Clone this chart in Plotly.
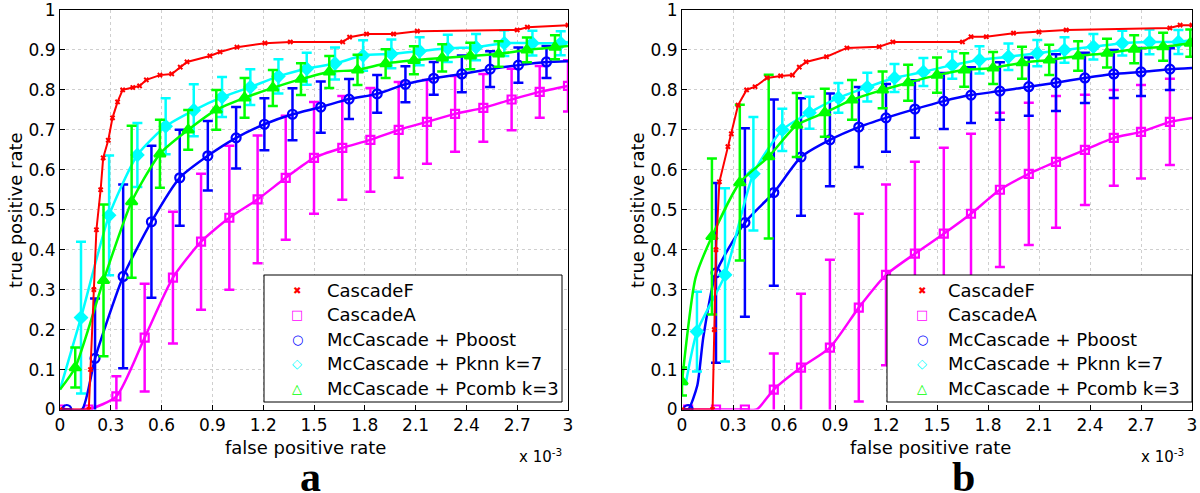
import plotly.graph_objects as go

# ---------------- data (false positive rate in units of 1e-3) ----------------
X_TICKS = [0, 0.3, 0.6, 0.9, 1.2, 1.5, 1.8, 2.1, 2.4, 2.7, 3]
X_TICK_TEXT = ["0", "0.3", "0.6", "0.9", "1.2", "1.5", "1.8", "2.1", "2.4", "2.7", "3"]
Y_TICKS = [0, 0.1, 0.2, 0.3, 0.4, 0.5, 0.6, 0.7, 0.8, 0.9, 1]
Y_TICK_TEXT = ["0", "0.1", "0.2", "0.3", "0.4", "0.5", "0.6", "0.7", "0.8", "0.9", "1"]
NAMES = ["CascadeF", "CascadeA", "McCascade + Pboost", "McCascade + Pknn k=7", "McCascade + Pcomb k=3"]

# Panel a
A_RED_X = [0, 0.17, 0.18, 0.20, 0.215, 0.24, 0.255, 0.285, 0.31, 0.34, 0.37, 0.43, 0.47, 0.51, 0.59, 0.66,
           0.71, 0.75, 0.885, 0.945, 1.045, 1.21, 1.36, 1.67, 1.71, 1.81, 1.97, 2.11, 2.7, 2.76, 3.0]
A_RED_Y = [0, 0, 0.1, 0.3, 0.45, 0.55, 0.63, 0.674, 0.73, 0.77, 0.80, 0.806, 0.81, 0.825, 0.837, 0.84,
           0.857, 0.87, 0.885, 0.895, 0.907, 0.917, 0.92, 0.92, 0.932, 0.94, 0.94, 0.947, 0.95, 0.957, 0.962]

A_MAG_X = [0, 0.167, 0.333, 0.5, 0.667, 0.833, 1.0, 1.167, 1.333, 1.5, 1.667, 1.833, 2.0, 2.167, 2.333, 2.5, 2.667, 2.833, 3.0]
A_MAG_Y = [0, 0, 0.033, 0.18, 0.33, 0.42, 0.48, 0.526, 0.58, 0.63, 0.655, 0.675, 0.70, 0.72, 0.74, 0.755, 0.776, 0.795, 0.81]
A_MAG_E = [0, 0, 0.05, 0.135, 0.165, 0.17, 0.18, 0.16, 0.155, 0.14, 0.13, 0.13, 0.12, 0.105, 0.095, 0.085, 0.077, 0.065, 0.064]

A_BLU_X = [0, 0.04, 0.13, 0.207, 0.373, 0.54, 0.707, 0.873, 1.04, 1.207, 1.373, 1.54, 1.707, 1.873, 2.04, 2.207, 2.373, 2.54, 2.707, 2.873, 3.0]
A_BLU_Y = [0, 0, 0.0, 0.128, 0.333, 0.47, 0.58, 0.635, 0.68, 0.714, 0.739, 0.757, 0.777, 0.79, 0.814, 0.829, 0.84, 0.852, 0.862, 0.87, 0.872]
A_BLU_E = [None, 0, None, 0.15, 0.23, 0.19, 0.12, 0.087, 0.077, 0.065, 0.065, 0.064, 0.05, 0.047, 0.045, 0.041, 0.046, 0.045, 0.044, 0.04, None]

A_CYA_X = [0, 0.124, 0.29, 0.457, 0.624, 0.79, 0.957, 1.124, 1.29, 1.457, 1.624, 1.79, 1.957, 2.124, 2.29, 2.457, 2.624, 2.79, 2.957, 3.0]
A_CYA_Y = [0.05, 0.23, 0.486, 0.637, 0.709, 0.749, 0.782, 0.807, 0.834, 0.853, 0.866, 0.886, 0.89, 0.897, 0.904, 0.907, 0.917, 0.917, 0.917, 0.92]
A_CYA_E = [None, 0.19, 0.15, 0.08, 0.07, 0.065, 0.05, 0.045, 0.043, 0.04, 0.04, 0.038, 0.036, 0.035, 0.034, 0.033, 0.032, 0.031, 0.03, None]

A_GRN_X = [0, 0.09, 0.257, 0.423, 0.59, 0.757, 0.923, 1.09, 1.257, 1.423, 1.59, 1.757, 1.923, 2.09, 2.257, 2.423, 2.59, 2.757, 2.923, 3.0]
A_GRN_Y = [0.05, 0.105, 0.323, 0.52, 0.64, 0.70, 0.75, 0.78, 0.805, 0.827, 0.845, 0.85, 0.866, 0.874, 0.88, 0.885, 0.89, 0.90, 0.907, 0.91]
A_GRN_E = [None, 0.05, 0.19, 0.19, 0.085, 0.05, 0.05, 0.05, 0.045, 0.04, 0.04, 0.038, 0.036, 0.035, 0.034, 0.033, 0.032, 0.031, 0.03, None]

# Panel b
B_RED_X = [0, 0.18, 0.19, 0.20, 0.22, 0.27, 0.29, 0.33, 0.38, 0.43, 0.5, 0.58, 0.65, 0.69, 0.73, 0.85, 0.97,
           1.16, 1.24, 1.65, 1.7, 1.79, 1.95, 2.1, 2.26, 2.87, 2.93, 3.0]
B_RED_Y = [0, 0, 0.2, 0.4, 0.57, 0.658, 0.69, 0.762, 0.80, 0.808, 0.83, 0.835, 0.837, 0.857, 0.87, 0.883, 0.905,
           0.908, 0.92, 0.92, 0.933, 0.933, 0.942, 0.945, 0.95, 0.955, 0.962, 0.962]

B_MAG_X = [0, 0.036, 0.2, 0.37, 0.44, 0.54, 0.70, 0.87, 1.04, 1.2, 1.37, 1.54, 1.70, 1.87, 2.04, 2.2, 2.37, 2.54, 2.7, 2.87, 3.0]
B_MAG_Y = [0, 0, 0, 0, 0, 0.05, 0.105, 0.155, 0.255, 0.337, 0.39, 0.44, 0.49, 0.55, 0.59, 0.62, 0.65, 0.68, 0.695, 0.72, 0.73]
B_MAG_E = [None, 0, 0, 0, None, 0.09, 0.185, 0.22, 0.235, 0.226, 0.23, 0.215, 0.2, 0.193, 0.178, 0.165, 0.138, 0.12, 0.117, 0.108, None]

B_BLU_X = [0, 0.036, 0.09, 0.125, 0.2, 0.37, 0.54, 0.70, 0.87, 1.04, 1.2, 1.37, 1.54, 1.70, 1.87, 2.04, 2.2, 2.37, 2.54, 2.7, 2.87, 3.0]
B_BLU_Y = [0, 0, 0.06, 0.18, 0.342, 0.468, 0.543, 0.632, 0.675, 0.707, 0.73, 0.752, 0.772, 0.787, 0.797, 0.808, 0.818, 0.83, 0.84, 0.845, 0.852, 0.855]
B_BLU_E = [None, 0, None, None, 0.225, 0.236, 0.233, 0.147, 0.116, 0.10, 0.085, 0.072, 0.07, 0.07, 0.072, 0.073, 0.071, 0.063, 0.06, 0.06, 0.052, None]

B_CYA_X = [0.02, 0.088, 0.253, 0.42, 0.59, 0.75, 0.92, 1.09, 1.25, 1.42, 1.59, 1.75, 1.92, 2.09, 2.25, 2.42, 2.59, 2.75, 2.92, 3.0]
B_CYA_Y = [0.06, 0.195, 0.337, 0.59, 0.70, 0.743, 0.78, 0.807, 0.83, 0.845, 0.862, 0.875, 0.883, 0.892, 0.90, 0.908, 0.917, 0.92, 0.92, 0.925]
B_CYA_E = [None, 0.1, 0.217, 0.142, 0.053, 0.04, 0.037, 0.036, 0.035, 0.035, 0.034, 0.034, 0.033, 0.033, 0.032, 0.032, 0.031, 0.031, 0.03, None]

B_GRN_X = [0, 0.08, 0.176, 0.34, 0.51, 0.675, 0.84, 1.0, 1.18, 1.33, 1.5, 1.66, 1.83, 2.0, 2.16, 2.33, 2.5, 2.66, 2.83, 2.99]
B_GRN_Y = [0.07, 0.33, 0.433, 0.568, 0.633, 0.712, 0.743, 0.775, 0.80, 0.818, 0.837, 0.85, 0.855, 0.868, 0.875, 0.885, 0.892, 0.902, 0.908, 0.917]
B_GRN_E = [0.035, None, 0.195, 0.195, 0.205, 0.08, 0.06, 0.05, 0.046, 0.045, 0.044, 0.042, 0.04, 0.04, 0.038, 0.037, 0.036, 0.035, 0.035, 0.034]

# ---------------- styling ----------------
W, H = 1200, 493
RED, MAG, BLU, CYA, GRN = "#ff0000", "#ff00ff", "#0000ff", "#00ffff", "#00ff00"
FONT = "DejaVu Sans"

fig = go.Figure()


def add_curve(X, Y, E, color, symbol, size, xa, ya, name):
    fig.add_trace(go.Scatter(x=X, y=Y, mode="lines", xaxis=xa, yaxis=ya, showlegend=False,
                             hoverinfo="skip", name=name,
                             line=dict(color=color, width=2.5, shape="spline", smoothing=0.6)))
    mx = [x for x, e in zip(X, E) if e is not None]
    my = [y for y, e in zip(Y, E) if e is not None]
    me = [e for e in E if e is not None]
    fig.add_trace(go.Scatter(x=mx, y=my, mode="markers", xaxis=xa, yaxis=ya, showlegend=False,
                             hoverinfo="skip", name=name,
                             marker=dict(symbol=symbol, size=size, color=color,
                                         line=dict(color=color, width=2.2)),
                             error_y=dict(type="data", array=me, visible=True, color=color,
                                          thickness=2.5, width=5)))


def add_red(X, Y, xa, ya, name):
    fig.add_trace(go.Scatter(x=X, y=Y, mode="lines+markers", xaxis=xa, yaxis=ya, showlegend=False,
                             hoverinfo="skip", name=name,
                             line=dict(color=RED, width=2),
                             marker=dict(symbol="x", size=5, color=RED)))


for (mx_, my_, me_, bx, by, be, cx, cy, ce, gx, gy, ge, rx, ry, xa, ya) in [
    (A_MAG_X, A_MAG_Y, A_MAG_E, A_BLU_X, A_BLU_Y, A_BLU_E, A_CYA_X, A_CYA_Y, A_CYA_E,
     A_GRN_X, A_GRN_Y, A_GRN_E, A_RED_X, A_RED_Y, "x", "y"),
    (B_MAG_X, B_MAG_Y, B_MAG_E, B_BLU_X, B_BLU_Y, B_BLU_E, B_CYA_X, B_CYA_Y, B_CYA_E,
     B_GRN_X, B_GRN_Y, B_GRN_E, B_RED_X, B_RED_Y, "x2", "y2"),
]:
    add_curve(mx_, my_, me_, MAG, "square-open", 8, xa, ya, NAMES[1])
    add_curve(bx, by, be, BLU, "circle-open", 9, xa, ya, NAMES[2])
    add_curve(cx, cy, ce, CYA, "diamond", 9, xa, ya, NAMES[3])
    add_curve(gx, gy, ge, GRN, "triangle-up", 10, xa, ya, NAMES[4])
    add_red(rx, ry, xa, ya, NAMES[0])


def px_x(p):
    return p / W


def px_y(p):
    return 1 - p / H


axis_common = dict(showline=True, linecolor="black", linewidth=1, mirror=True,
                   ticks="inside", ticklen=5, tickcolor="black", zeroline=False,
                   showgrid=True, gridcolor="#cfcfcf", griddash="dot", gridwidth=1,
                   automargin=False, ticklabeloverflow="allow",
                   tickfont=dict(family=FONT, size=17, color="black"))

ydom = [px_y(409.5), px_y(10)]
fig.update_layout(
    width=W, height=H, margin=dict(l=0, r=0, t=0, b=0, autoexpand=False),
    paper_bgcolor="white", plot_bgcolor="white", showlegend=False,
    xaxis=dict(domain=[px_x(60), px_x(568)], range=[0, 3], tickvals=X_TICKS, ticktext=X_TICK_TEXT,
               anchor="y", **axis_common),
    yaxis=dict(domain=ydom, range=[0, 1], tickvals=Y_TICKS, ticktext=Y_TICK_TEXT,
               anchor="x", **axis_common),
    xaxis2=dict(domain=[px_x(682), px_x(1192)], range=[0, 3], tickvals=X_TICKS, ticktext=X_TICK_TEXT,
                anchor="y2", **axis_common),
    yaxis2=dict(domain=ydom, range=[0, 1], tickvals=Y_TICKS, ticktext=Y_TICK_TEXT,
                anchor="x2", **axis_common),
)

ann = []
shapes = []
LEG_SYMS = [("\u2716", RED, 10), ("\u25A1", MAG, 13), ("\u25CB", BLU, 13), ("\u25C7", CYA, 13), ("\u25B3", GRN, 13)]
ROW_Y = [290, 314.5, 339, 363.5, 388]
for (cx_lab, cx_ylab, cx_mult, cx_letter, letter, box, mk_x, tx_x) in [
        (305, 15, 540, 310, "a", (264, 275, 562, 402), 297, 325),
        (930, 637, 1162, 963, "b", (887, 275, 1192, 402), 922, 946)]:
    ann.append(dict(x=px_x(cx_lab), y=px_y(447), xref="paper", yref="paper", showarrow=False,
                    xanchor="center", yanchor="middle",
                    text="false positive rate", font=dict(family=FONT, size=18, color="black")))
    ann.append(dict(x=px_x(cx_ylab), y=px_y(210), xref="paper", yref="paper", showarrow=False,
                    xanchor="center", yanchor="middle",
                    text="true positive rate", textangle=-90,
                    font=dict(family=FONT, size=18, color="black")))
    ann.append(dict(x=px_x(cx_mult), y=px_y(456), xref="paper", yref="paper", showarrow=False,
                    xanchor="center", yanchor="middle",
                    text="x 10<sup>-3</sup>", font=dict(family=FONT, size=15, color="black")))
    ann.append(dict(x=px_x(cx_letter), y=px_y(477), xref="paper", yref="paper", showarrow=False,
                    xanchor="center", yanchor="middle",
                    text="<b>%s</b>" % letter,
                    font=dict(family="Liberation Serif", size=42, color="black")))
    # legend box
    x0, y0, x1, y1 = box
    shapes.append(dict(type="rect", xref="paper", yref="paper", layer="above",
                       x0=px_x(x0), x1=px_x(x1), y0=px_y(y1), y1=px_y(y0),
                       fillcolor="white", line=dict(color="black", width=1)))
    for name, (sym, col, sz), ry in zip(NAMES, LEG_SYMS, ROW_Y):
        ann.append(dict(x=px_x(mk_x), y=px_y(ry), xref="paper", yref="paper", showarrow=False,
                        xanchor="center", yanchor="middle", text=sym,
                        font=dict(family=FONT, size=sz, color=col)))
        ann.append(dict(x=px_x(tx_x), y=px_y(ry), xref="paper", yref="paper", showarrow=False,
                        xanchor="left", yanchor="middle", text=name,
                        font=dict(family=FONT, size=18, color="black")))
fig.update_layout(annotations=ann, shapes=shapes)

fig.write_html("out.html", config={"displayModeBar": False},
               post_script="document.body.style.margin='0';document.body.style.overflow='hidden';")
